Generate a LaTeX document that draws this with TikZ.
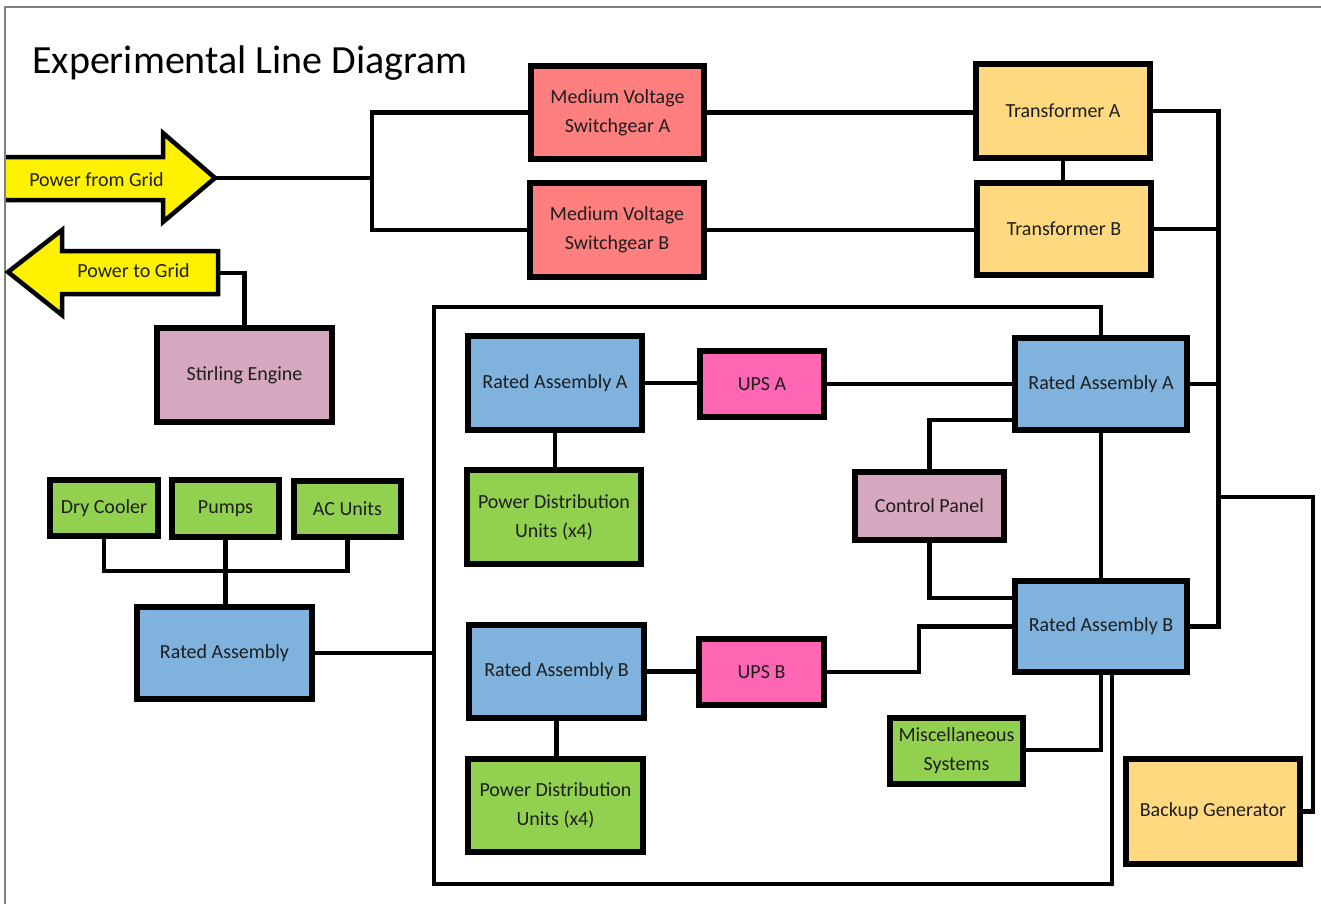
\documentclass[tikz,border=0pt]{standalone}
\usepackage{fontspec}
\setmainfont{Carlito}
\definecolor{salmon}{HTML}{FF7F7F}
\definecolor{gold}{HTML}{FFD97F}
\definecolor{skyb}{HTML}{7FB3DE}
\definecolor{lgreen}{HTML}{92D050}
\definecolor{hotpink}{HTML}{FF66B3}
\definecolor{mauve}{HTML}{D5A8BF}
\definecolor{txt}{HTML}{1E1E1E}
\begin{document}
\begin{tikzpicture}[x=1pt,y=-1pt,
  box/.style={draw=black,line width=6pt,inner sep=0pt,align=center,text=txt,
    font=\fontsize{20}{29}\selectfont},
  wire/.style={draw=black,line width=4.5pt,line cap=rect},
  arrowshape/.style={fill=yellow,draw=black,line width=4.5pt,line join=miter},
  lbl/.style={inner sep=0pt,text=txt,font=\fontsize{20}{24}\selectfont}]
\useasboundingbox (0,0) rectangle (1321,903);
\fill[white] (0,0) rectangle (1321,903);
\draw[gray,line width=1.2pt] (5,910) -- (5,7) -- (1330,7);

% title
\node[anchor=base west,inner sep=0pt,text=black,font=\fontsize{40}{46}\selectfont] (title) at (32,73) {Experimental Line Diagram};

% arrows
\fill[yellow] (6,157) -- (163,157) -- (163,133) -- (215,178) -- (163,222) -- (163,200) -- (6,200) -- cycle;
\draw[arrowshape,fill=none] (6,157) -- (163,157) -- (163,133) -- (215,178) -- (163,222) -- (163,200) -- (6,200);
\coordinate (pfgtip) at (215,178);
\node[lbl] (pfg) at (96.5,180) {Power from Grid};

\draw[arrowshape] (8,272) -- (62,230) -- (62,251) -- (218,251) -- (218,294) -- (62,294) -- (62,315) -- cycle;
\coordinate (ptgend) at (218,273);
\node[lbl] (ptg) at (133.5,271) {Power to Grid};

% boxes
\node[box,fill=salmon,minimum width=173,minimum height=93] (mvA) at (617.5,112.5) {Medium Voltage\\Switchgear A};
\node[box,fill=salmon,minimum width=174,minimum height=94] (mvB) at (617,230) {Medium Voltage\\Switchgear B};
\node[box,fill=gold,minimum width=174,minimum height=94] (tA) at (1063,111) {Transformer A};
\node[box,fill=gold,minimum width=174,minimum height=92] (tB) at (1064,229) {Transformer B};
\node[box,fill=skyb,minimum width=172,minimum height=92] (raA2) at (1101,384) {Rated Assembly A};
\node[box,fill=mauve,minimum width=149,minimum height=68] (cp) at (929.5,506) {Control Panel};
\node[box,fill=skyb,minimum width=172,minimum height=91] (raB2) at (1101,626.5) {Rated Assembly B};
\node[box,fill=gold,minimum width=174,minimum height=105] (bg) at (1213,811.5) {Backup Generator};
\node[box,fill=lgreen,minimum width=133,minimum height=66] (misc) at (956.5,751) {Miscellaneous\\Systems};
\node[box,fill=skyb,minimum width=174,minimum height=94] (raA1) at (555,383) {Rated Assembly A};
\node[box,fill=hotpink,minimum width=124,minimum height=66] (upsA) at (762,384) {UPS A};
\node[box,fill=lgreen,minimum width=174,minimum height=94] (pduA) at (554,517) {Power Distribution\\Units (x4)};
\node[box,fill=skyb,minimum width=175,minimum height=93] (raB1) at (556.5,671.5) {Rated Assembly B};
\node[box,fill=hotpink,minimum width=125,minimum height=66] (upsB) at (761.5,672) {UPS B};
\node[box,fill=lgreen,minimum width=175,minimum height=93] (pduB) at (555.5,805.5) {Power Distribution\\Units (x4)};
\node[box,fill=lgreen,minimum width=108,minimum height=56] (dc) at (104,508) {Dry Cooler};
\node[box,fill=lgreen,minimum width=107,minimum height=57] (pumps) at (225.5,508.5) {Pumps};
\node[box,fill=lgreen,minimum width=107,minimum height=56] (ac) at (347.5,509) {AC Units};
\node[box,fill=skyb,minimum width=175,minimum height=92] (ra) at (224.5,653) {Rated Assembly};
\node[box,fill=mauve,minimum width=175,minimum height=94] (se) at (244.5,375) {Stirling Engine};

% junction coordinates
\coordinate (split) at (372,178);
\coordinate (bus) at (1218.5,112);
\coordinate (bgj) at (1218.5,497);
\coordinate (bgr) at (1313,497);
\coordinate (loopbl) at (434,884);
\coordinate (looptl) at (434,307);
\coordinate (loopbr) at (1112,884);
\coordinate (loopl) at (434,653);
\coordinate (cpAy) at (0,420);
\coordinate (cpBy) at (0,598);
\coordinate (upsBx) at (919,0);
\coordinate (miscy) at (0,750);
\coordinate (lbus) at (0,571);

% connectors
\draw[wire] (pfgtip) -- (split);
\draw[wire] (mvA.west) -| (split) |- (mvB.west);
\draw[wire] (mvA.east) -- (mvA.east -| tA.west);
\draw[wire] (mvB.east) -- (mvB.east -| tB.west);
\draw[wire] (tA.south) -- (tA.south |- tB.north);
\draw[wire] (tA.east) -| (bus) |- (raB2.east);
\draw[wire] (tB.east) -- (tB.east -| bus);
\draw[wire] (raA2.east) -- (raA2.east -| bus);
\draw[wire] (bgj) -- (bgr) |- (bg.east);
\draw[wire] (ptgend) -| (se.north);
\draw[wire] (dc.south) -- (dc.south |- lbus) -| (ac.south);
\draw[wire] (pumps.south) -- (pumps.south |- ra.north);
\draw[wire] (ra.east) -- (loopl);
\draw[wire] (raB2.south -| loopbr) -- (loopbr) -- (loopbl) -- (looptl) -| (raA2.north);
\draw[wire] (raA1.east) -- (raA1.east -| upsA.west);
\draw[wire] (upsA.east) -- (raA2.west);
\draw[wire] (raA1.south) -- (pduA.north -| raA1.south);
\draw[wire] (raB1.east) -- (raB1.east -| upsB.west);
\draw[wire] (upsB.east) -| (upsBx |- raB2.west) -- (raB2.west);
\draw[wire] (raB1.south) -- (pduB.north -| raB1.south);
\draw[wire] (cp.north) |- (raA2.west |- cpAy);
\draw[wire] (cp.south) |- (raB2.west |- cpBy);
\draw[wire] (raA2.south) -- (raB2.north);
\draw[wire] (raB2.south) |- (misc.east |- miscy);
\end{tikzpicture}
\end{document}
